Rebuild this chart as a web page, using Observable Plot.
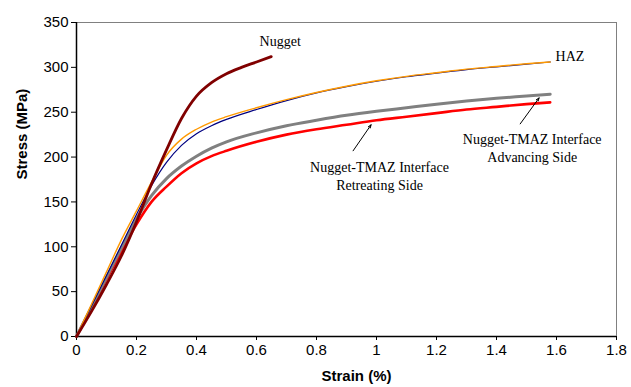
<!DOCTYPE html>
<html>
<head>
<meta charset="utf-8">
<script src="https://cdn.jsdelivr.net/npm/d3@7"></script>
<script src="https://cdn.jsdelivr.net/npm/@observablehq/plot@0.6"></script>
<style>
  html, body { margin: 0; padding: 0; background: #fff; }
</style>
</head>
<body>
<div id="chart"></div>
<script>
// ---- Data ----
const nuggetStrain = [0, 0.05, 0.1, 0.15, 0.2, 0.25, 0.3, 0.35, 0.4, 0.45, 0.5, 0.55, 0.6, 0.649];
const nuggetStress = [0, 28, 58, 90, 128, 170, 208, 243, 268, 283, 293, 300, 306, 312];

const hazOrangeStrain = [0, 0.05, 0.1, 0.15, 0.2, 0.25, 0.3, 0.35, 0.4, 0.45, 0.5, 0.6, 0.7, 0.8, 0.9, 1.0, 1.1, 1.2, 1.3, 1.4, 1.5, 1.579];
const hazOrangeStress = [0, 36, 72, 108, 140, 172, 202, 220, 231, 239, 245, 255, 264, 272, 279, 285, 290, 294, 298, 301, 304, 306];

const hazBlueStrain = [0, 0.05, 0.1, 0.15, 0.2, 0.25, 0.3, 0.35, 0.4, 0.45, 0.5, 0.6, 0.7, 0.8, 0.9, 1.0, 1.1, 1.2, 1.3, 1.4, 1.5, 1.579];
const hazBlueStress = [0, 34, 68, 102, 136, 168, 194, 213, 226, 235, 242, 253, 263, 271.5, 278.5, 284.5, 289.5, 293.5, 297.5, 300.5, 303.5, 306];

const advStrain = [0, 0.05, 0.1, 0.15, 0.2, 0.25, 0.3, 0.35, 0.4, 0.45, 0.5, 0.6, 0.7, 0.8, 0.9, 1.0, 1.1, 1.2, 1.3, 1.4, 1.5, 1.579];
const advStress = [0, 33, 66, 99, 131, 157, 176, 190, 201, 210, 217, 227, 235, 241, 246.5, 251, 255, 259, 262.5, 265.5, 268, 270];

const retStrain = [0, 0.05, 0.1, 0.15, 0.2, 0.25, 0.3, 0.35, 0.4, 0.45, 0.5, 0.6, 0.7, 0.8, 0.9, 1.0, 1.1, 1.2, 1.3, 1.4, 1.5, 1.579];
const retStress = [0, 32, 64, 95, 125, 150, 167, 182, 193, 201, 207, 217, 225, 231, 236, 241, 245, 249, 253, 256, 259, 261];

const xTicks = [0, 0.2, 0.4, 0.6, 0.8, 1, 1.2, 1.4, 1.6, 1.8];
const yTicks = [0, 50, 100, 150, 200, 250, 300, 350];

const labelTexts = ["Nugget", "HAZ", "Nugget-TMAZ Interface\nRetreating Side", "Nugget-TMAZ Interface\nAdvancing Side"];
const labelStrain = [0.679, 1.645, 1.01, 1.519];
const labelStress = [330, 314, 180, 211];

const arrowFromStrain = [0.922, 1.479];
const arrowFromStress = [207, 237];
const arrowToStrain = [0.982, 1.542];
const arrowToStress = [236, 266];

const xLabel = "Strain (%)";
const yLabel = "Stress (MPa)";

// ---- Build tables ----
const toPts = (xs, ys) => xs.map((x, i) => ({x, y: ys[i]}));
const nugget = toPts(nuggetStrain, nuggetStress);
const hazO = toPts(hazOrangeStrain, hazOrangeStress);
const hazB = toPts(hazBlueStrain, hazBlueStress);
const adv = toPts(advStrain, advStress);
const ret = toPts(retStrain, retStress);
const labels = labelTexts.map((t, i) => ({t, x: labelStrain[i], y: labelStress[i]}));
const arrows = arrowFromStrain.map((x1, i) => ({x1, y1: arrowFromStress[i], x2: arrowToStrain[i], y2: arrowToStress[i]}));

const fmt = d => String(+d.toFixed(1));

const chart = Plot.plot({
  width: 631,
  height: 387,
  marginLeft: 76,
  marginRight: 15,
  marginTop: 22,
  marginBottom: 51,
  style: {fontFamily: "Liberation Sans, Arial, sans-serif", fontSize: "15px", color: "#000", background: "#fff"},
  x: {domain: [0, 1.8]},
  y: {domain: [0, 350]},
  marks: [
    Plot.frame({stroke: "#808080", strokeWidth: 1}),
    Plot.axisX(xTicks, {tickSize: 4, tickPadding: 4, tickFormat: fmt, label: null, fontSize: 15, stroke: "#000"}),
    Plot.axisY(yTicks, {tickSize: 5, tickPadding: 3, label: null, fontSize: 15, stroke: "#000"}),
    Plot.ruleX([0], {stroke: "#000", strokeWidth: 1.5}),
    Plot.ruleY([0], {stroke: "#000", strokeWidth: 1.5}),
    Plot.line(ret, {x: "x", y: "y", stroke: "#ff0000", strokeWidth: 2.6, curve: "monotone-x"}),
    Plot.line(adv, {x: "x", y: "y", stroke: "#808080", strokeWidth: 3, curve: "monotone-x"}),
    Plot.line(hazB, {x: "x", y: "y", stroke: "#000080", strokeWidth: 1.2, curve: "monotone-x"}),
    Plot.line(hazO, {x: "x", y: "y", stroke: "#ff9900", strokeWidth: 1.4, curve: "monotone-x"}),
    Plot.line(nugget, {x: "x", y: "y", stroke: "#800000", strokeWidth: 2.8, curve: "monotone-x"}),
    Plot.arrow(arrows, {x1: "x1", y1: "y1", x2: "x2", y2: "y2", stroke: "#000", strokeWidth: 1, headLength: 5, headAngle: 40}),
    Plot.text(labels, {x: "x", y: "y", text: "t", fontFamily: "Liberation Serif, Times New Roman, serif", fontSize: 14, lineHeight: 1.3, fill: "#000"}),
    Plot.text([xLabel], {frameAnchor: "bottom", dx: 10, dy: 44, fontWeight: "bold", fontSize: 15, fill: "#000"}),
    Plot.text([yLabel], {frameAnchor: "left", dx: -54, rotate: -90, fontWeight: "bold", fontSize: 15, fill: "#000"})
  ]
});
document.getElementById("chart").appendChild(chart);
</script>
</body>
</html>
